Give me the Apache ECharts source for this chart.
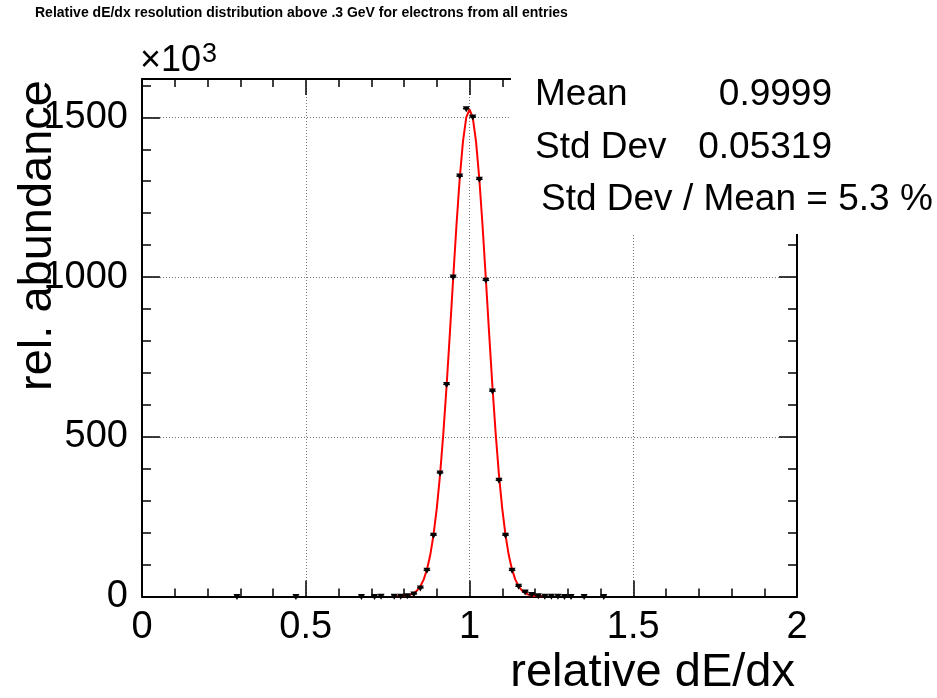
<!DOCTYPE html>
<html>
<head>
<meta charset="utf-8">
<script src="https://cdn.jsdelivr.net/npm/echarts@6/dist/echarts.min.js"></script>
<style>
html,body{margin:0;padding:0;background:#fff;}
#chart{width:937px;height:698px;}
</style>
</head>
<body>
<div id="chart"></div>
<script>
// ---- data (y in units of 10^3) ----
const binCenters = [0.29,0.47,0.67,0.71,0.73,0.77,0.79,0.81,0.83,0.85,0.87,0.89,0.91,0.93,0.95,0.97,0.99,1.01,1.03,1.05,1.07,1.09,1.11,1.13,1.15,1.17,1.19,1.21,1.23,1.25,1.27,1.29,1.31,1.35,1.41];
const counts = [0.3,0.3,0.3,0.3,0.5,0.5,1,2.5,8,27,82,192,387,664,1000,1316,1527,1501,1306,990,643,364,192,82,32,14,6,2,1,0.5,0.5,0.3,0.3,0.3,0.3];
const binWidth = 0.02;

const fitX = [0.77,0.78,0.79,0.80,0.81,0.82,0.83,0.84,0.85,0.86,0.87,0.88,0.89,0.90,0.91,0.92,0.93,0.94,0.95,0.96,0.97,0.98,0.99,1.00,1.01,1.02,1.03,1.04,1.05,1.06,1.07,1.08,1.09,1.10,1.11,1.12,1.13,1.14,1.15,1.16,1.17,1.18,1.19,1.20,1.21,1.22,1.23];
const fitY = [0.2,0.4,0.8,1.6,3.1,5.9,11,19,32,53,84,129,192,275,380,509,658,823,993,1159,1307,1424,1499,1525,1499,1424,1307,1159,993,823,658,509,380,275,192,129,84,53,32,19,11,5.9,3.1,1.6,0.8,0.4,0.2];

const xTicks = [0, 0.5, 1, 1.5, 2];
const yTicks = [0, 500, 1000, 1500];

const titleText = 'Relative dE/dx resolution distribution above .3 GeV for electrons from all entries';
const xTitle = 'relative dE/dx';
const yTitle = 'rel. abundance';
const statsLabels = ['Mean', 'Std Dev'];
const statsValues = ['0.9999', '0.05319'];
const ratioText = 'Std Dev / Mean = 5.3 %';

// ---- chart ----
const FONT = 'Liberation Sans, Arial, Helvetica, sans-serif';
const chart = echarts.init(document.getElementById('chart'), null, {renderer: 'canvas'});

const xMin = xTicks[0], xMax = xTicks[xTicks.length - 1];
const yMax = 1620;

const lineBlack = {color: '#000', width: 2};
const dotted = {color: '#777', width: 1, type: [1, 2]};

function xAx(pos, main) {
  return {
    type: 'value', position: pos, min: xMin, max: xMax, interval: 0.5,
    axisLine: {show: true, onZero: false, lineStyle: lineBlack},
    axisTick: {show: true, inside: true, length: 16, lineStyle: {color: '#000', width: 1.5}},
    minorTick: {show: true, splitNumber: 5, length: 8, lineStyle: {color: '#000', width: 1.5}},
    axisLabel: main ? {show: true, fontSize: 38, fontFamily: FONT, color: '#000', margin: 12,
      formatter: v => (xTicks.indexOf(v) >= 0 ? String(v) : '')} : {show: false},
    splitLine: main ? {show: true, lineStyle: dotted} : {show: false},
    minorSplitLine: {show: false}
  };
}
function yAx(pos, major, main) {
  return {
    type: 'value', position: pos, min: 0, max: yMax, interval: major ? 500 : 100,
    axisLine: {show: major, onZero: false, lineStyle: lineBlack},
    axisTick: {show: true, inside: true, length: major ? 18 : 9, lineStyle: {color: '#000', width: 1.5}},
    axisLabel: main ? {show: true, fontSize: 38, fontFamily: FONT, color: '#000', margin: 14,
      formatter: v => (yTicks.indexOf(v) >= 0 ? String(v) : '')} : {show: false},
    splitLine: main ? {show: true, lineStyle: dotted} : {show: false}
  };
}

const points = binCenters.map((x, i) => [x, counts[i]]);
const fitData = fitX.map((x, i) => [x, fitY[i]]);

const gTop = 79, gLeft = 142, gRight = 140, gHeight = 517.5;

const option = {
  backgroundColor: '#fff',
  animation: false,
  grid: {left: gLeft, right: gRight, top: gTop, height: gHeight, containLabel: false},
  xAxis: [xAx('bottom', true), xAx('top', false)],
  yAxis: [yAx('left', true, true), yAx('left', false, false), yAx('right', true, false), yAx('right', false, false)],
  series: [
    {
      type: 'line', data: fitData, xAxisIndex: 0, yAxisIndex: 0,
      showSymbol: false, smooth: false, z: 3,
      lineStyle: {color: '#ff0000', width: 2}
    },
    {
      type: 'custom', data: points, xAxisIndex: 0, yAxisIndex: 0, z: 5, clip: false,
      renderItem: function (params, api) {
        const x = api.value(0), y = api.value(1);
        const p = api.coord([x, y]);
        const pl = api.coord([x - binWidth / 2, y]);
        const pr = api.coord([x + binWidth / 2, y]);
        return {
          type: 'group',
          children: [
            {type: 'line', shape: {x1: pl[0], y1: p[1], x2: pr[0], y2: p[1]}, style: {stroke: '#000', lineWidth: 1.5}},
            {type: 'polygon', shape: {points: [[p[0] - 3.5, p[1] - 2.5], [p[0] + 3.5, p[1] - 2.5], [p[0], p[1] + 3.5]]}, style: {fill: '#000'}}
          ]
        };
      }
    }
  ],
  graphic: [
    {type: 'text', left: 35, top: 6, z: 100,
      style: {text: titleText, font: 'bold 14px ' + FONT, fill: '#000'}},
    {type: 'rect', shape: {x: 511, y: 60, width: 426, height: 174}, style: {fill: '#fff'}, z: 90},
    {type: 'text', x: 535, y: 107 + 6, z: 100,
      style: {text: statsLabels[0], font: '37px ' + FONT, fill: '#000', textAlign: 'left', textVerticalAlign: 'bottom'}},
    {type: 'text', x: 832, y: 107 + 6, z: 100,
      style: {text: statsValues[0], font: '37px ' + FONT, fill: '#000', textAlign: 'right', textVerticalAlign: 'bottom'}},
    {type: 'text', x: 535, y: 160 + 6, z: 100,
      style: {text: statsLabels[1], font: '37px ' + FONT, fill: '#000', textAlign: 'left', textVerticalAlign: 'bottom'}},
    {type: 'text', x: 832, y: 160 + 6, z: 100,
      style: {text: statsValues[1], font: '37px ' + FONT, fill: '#000', textAlign: 'right', textVerticalAlign: 'bottom'}},
    {type: 'text', x: 541, y: 212 + 6, z: 100,
      style: {text: ratioText, font: '37px ' + FONT, fill: '#000', textAlign: 'left', textVerticalAlign: 'bottom'}},
    {type: 'text', x: 795, y: 689 + 8, z: 100,
      style: {text: xTitle, font: '47px ' + FONT, fill: '#000', textAlign: 'right', textVerticalAlign: 'bottom'}},
    {type: 'text', x: 62, y: 80, rotation: Math.PI / 2, z: 100,
      style: {text: yTitle, font: '47px ' + FONT, fill: '#000', textAlign: 'right', textVerticalAlign: 'bottom'}},
    {type: 'text', x: 140, y: 73 + 6, z: 100,
      style: {text: '\u00d710', font: '36px ' + FONT, fill: '#000', textAlign: 'left', textVerticalAlign: 'bottom'}},
    {type: 'text', x: 202, y: 63 + 5, z: 100,
      style: {text: '3', font: '27px ' + FONT, fill: '#000', textAlign: 'left', textVerticalAlign: 'bottom'}}
  ]
};
chart.setOption(option);
</script>
</body>
</html>
